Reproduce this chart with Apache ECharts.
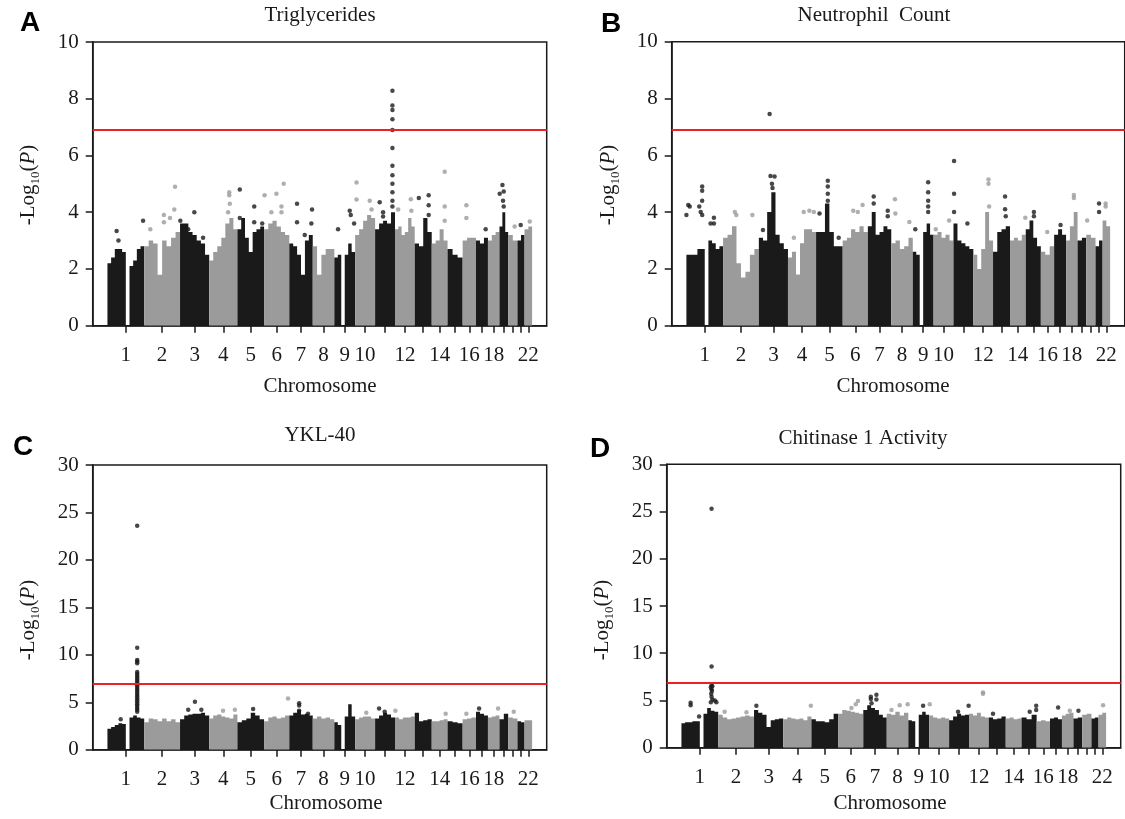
<!DOCTYPE html>
<html><head><meta charset="utf-8">
<script src="https://cdn.jsdelivr.net/npm/echarts@6/dist/echarts.min.js"></script>
<style>html,body{margin:0;padding:0;background:#fff}#c{width:1125px;height:819px}</style>
</head><body><div id="c"></div>
<script>
// ---------------- DATA ----------------
const chromosomes = ['1','2','3','4','5','6','7','8','9','10','11','12','13','14','15','16','17','18','19','20','21','22'];
const chromLengthsMb = [249.3,243.2,198.0,191.2,180.9,171.1,159.1,146.4,141.2,135.5,135.0,133.9,115.2,107.3,102.5,90.4,81.2,78.1,59.1,63.0,48.1,51.3];
const chromTickLabels = ['1','2','3','4','5','6','7','8','9','10','','12','','14','','16','','18','','','','22'];
const significance = 6.9;

// dense-cloud upper envelope per chromosome (-log10 P), evenly spaced along each chromosome
const trigEnvelope = [
 [2.2,2.4,2.7,2.7,2.6,0,2.1,2.3,2.7,2.8],
 [2.8,3.0,2.9,1.8,3.0,2.8,3.1,3.3],
 [3.6,3.6,3.3,3.2,3.0,2.9,2.5],
 [2.3,2.6,2.8,3.1,3.6,3.8,3.4],
 [3.4,3.8,3.1,2.6,3.3,3.4,3.5],
 [3.4,3.6,3.7,3.5,3.3,3.2],
 [2.9,2.8,2.5,1.8,3.0,3.2],
 [2.8,1.8,2.5,2.7,2.7],
 [2.4,2.5,0,2.5,2.9,2.6],
 [3.2,3.4,3.7,3.9,3.8],
 [3.4,3.6,3.7,3.6,4.0],
 [3.4,3.5,3.2,3.3,3.8,3.5],
 [2.9,2.8,3.8,3.3],
 [2.9,3.0,3.4,3.0],
 [2.7,2.5,2.4],
 [3.0,3.1,3.1],
 [3.0,2.9,3.1],
 [3.0,3.2,3.3],
 [3.5,4.0,3.3],
 [3.2,3.0],
 [3.0,3.2],
 [3.4,3.5]
];
const neutEnvelope = [
 [2.5,2.5,2.5,2.7,2.7,0,3.0,2.9,2.7,2.8],
 [3.1,3.2,3.5,2.2,1.7,1.9,2.5,2.7],
 [3.1,3.0,4.0,4.7,3.2,2.9,2.7],
 [2.4,2.6,1.8,2.9,3.4,3.4,3.3],
 [3.3,3.3,4.3,3.3,2.8,2.8],
 [3.0,3.1,3.4,3.3,3.5,3.3],
 [3.5,4.0,3.2,3.3,3.5,3.4],
 [2.9,3.0,2.7,2.8,3.1],
 [2.6,2.5,0,3.3,3.6,3.2],
 [3.2,3.3,3.1,3.2,3.0],
 [3.6,3.0,2.9,2.8,2.7],
 [2.5,2.0,2.7,4.0,3.0],
 [2.6,3.3,3.4,3.5],
 [3.0,3.1,3.0,3.2],
 [3.4,3.7,3.1,2.8],
 [2.6,2.5,2.8],
 [3.2,3.4,3.2],
 [3.0,3.5,4.0],
 [3.0,3.1],
 [3.2,3.1],
 [2.8,3.0],
 [3.7,3.5]
];
const yklEnvelope = [
 [2.2,2.4,2.6,2.8,2.7,0,3.4,3.6,3.4,3.3],
 [2.9,3.3,3.2,3.0,3.3,3.0,3.2,2.9],
 [3.2,3.6,3.7,3.8,3.8,3.9,3.6],
 [3.3,3.6,3.7,3.5,3.4,3.3,3.7],
 [2.9,3.1,3.3,3.9,3.6,3.2],
 [3.0,3.4,3.5,3.3,3.4,3.6],
 [3.6,3.9,4.2,3.7,3.8,3.6],
 [3.3,3.5,3.3,3.4,3.2],
 [2.9,2.6,0,3.5,4.8,3.5],
 [3.2,3.4,3.5,3.5,3.3],
 [3.3,3.6,3.9,3.7,3.4],
 [3.4,3.2,3.4,3.4,3.5],
 [3.9,3.0,3.1,3.2],
 [3.0,3.0,3.1,3.2],
 [3.0,2.9,2.8],
 [3.2,3.3,3.4],
 [4.0,3.8,3.6],
 [3.4,3.5,3.6],
 [3.2,3.8],
 [3.4,3.3],
 [3.0,2.9],
 [3.1,3.1]
];
const chitEnvelope = [
 [2.6,2.7,2.7,2.8,2.8,0,3.6,4.2,3.9,3.8],
 [3.5,3.2,3.0,3.1,3.2,3.3,3.4,3.3],
 [4.0,3.7,3.5,2.2,2.9,3.0,3.1],
 [3.0,3.2,3.1,3.0,3.1,2.9,3.3],
 [3.0,2.8,2.8,2.7,3.0,3.6],
 [3.6,4.0,3.9,3.8,3.7,3.6],
 [4.0,4.5,4.2,4.0,3.5,3.2],
 [3.6,3.5,3.8,3.4,3.7],
 [2.9,2.8,0,3.5,3.8,3.5],
 [3.4,3.2,3.1,3.2,3.1],
 [2.9,3.3,3.6,3.4,3.5],
 [3.6,3.4,3.7,3.3,3.2],
 [3.2,3.0,3.1,3.3],
 [3.1,3.2,3.0,3.1],
 [3.2,3.0,3.5],
 [2.8,2.9,2.8],
 [3.1,3.2,3.0],
 [3.4,3.6,3.7],
 [3.1,3.2],
 [3.5,3.6],
 [3.1,3.2],
 [3.5,3.7]
];

// individual SNPs standing out: [chromosome, fraction along chromosome, -log10 P]
const trigPeaks = [
 [1,.25,3.34],[1,.30,3.0],[1,.97,3.7],
 [2,.17,3.4],[2,.55,3.9],[2,.55,3.65],[2,.86,4.9],[2,.84,4.1],[2,.72,3.8],
 [3,.49,4.0],[3,.01,3.7],[3,.28,3.4],[3,.79,3.1],
 [4,.71,4.7],[4,.71,4.6],[4,.73,4.3],[4,.67,4.0],
 [5,.09,4.8],[5,.63,4.2],[5,.63,3.65],[5,.93,3.6],[5,.09,3.8],
 [6,.02,4.6],[6,.29,4.0],[6,.49,4.65],[6,.78,5.0],[6,.69,4.2],[6,.69,4.0],
 [7,.33,4.3],[7,.33,3.65],[7,.97,4.1],[7,.94,3.6],[7,.66,3.2],
 [9,.18,3.4],[9,.74,4.05],[9,.79,3.9],[9,.95,3.6],
 [10,.07,5.05],[10,.07,4.45],[10,.73,4.4],[10,.82,4.1],
 [11,.87,8.28],[11,.87,7.76],[11,.87,7.6],[11,.87,7.28],[11,.87,6.9],[11,.87,6.26],[11,.87,5.64],[11,.87,5.3],[11,.87,5.0],[11,.87,4.7],[11,.87,4.4],[11,.87,4.2],[11,.23,4.35],[11,.40,4.0],[11,.40,3.85],
 [12,.16,4.1],[12,.80,4.46],[12,.83,4.05],
 [13,.24,4.5],[13,.82,4.6],[13,.82,4.25],[13,.82,3.9],
 [14,.82,5.43],[14,.82,4.2],[14,.82,3.7],
 [16,.28,4.25],[16,.28,3.8],
 [17,.81,3.4],
 [19,.34,4.96],[19,.49,4.73],[19,.03,4.65],[19,.41,4.4],[19,.49,4.2],
 [20,.70,3.5],[21,.46,3.55],[22,.69,3.67]
];
const neutPeaks = [
 [1,.05,4.25],[1,.09,4.2],[1,.0,3.9],[1,.35,4.2],[1,.39,4.0],[1,.43,4.9],[1,.43,4.75],[1,.43,4.4],[1,.43,3.9],[1,.75,3.8],[1,.75,3.6],[1,.66,3.6],
 [2,.33,4.0],[2,.37,3.9],[2,.82,3.9],
 [3,.37,7.45],[3,.40,5.27],[3,.54,5.25],[3,.45,5.0],[3,.47,4.85],[3,.14,3.37],
 [4,.56,4.0],[4,.76,4.05],[4,.92,4.0],[4,.21,3.1],
 [5,.44,5.1],[5,.44,4.9],[5,.44,4.65],[5,.44,4.4],[5,.13,3.95],[5,.85,3.1],
 [6,.42,4.05],[6,.79,4.25],[6,.60,4.0],
 [7,.25,4.55],[7,.25,4.3],[7,.85,4.05],[7,.85,3.85],
 [8,.17,4.45],[8,.19,3.95],[8,.84,3.65],
 [9,.74,5.05],[9,.74,4.7],[9,.74,4.4],[9,.74,4.2],[9,.74,4.0],[9,.12,3.4],
 [10,.11,3.4],[10,.78,3.7],
 [11,.03,5.8],[11,.03,4.65],[11,.03,4.0],[11,.70,3.6],
 [12,.77,5.15],[12,.77,5.0],[12,.80,4.2],
 [13,.71,4.55],[13,.71,4.1],[13,.75,3.85],
 [14,.97,3.8],
 [15,.54,4.0],[15,.54,3.85],
 [16,.48,3.3],[17,.54,3.55],
 [18,.68,4.6],[18,.68,4.5],
 [20,.10,3.7],
 [21,.5,4.3],[21,.5,4.0],
 [22,.4,4.3],[22,.4,4.2]
];
const yklPeaks = [
 [1,.36,3.2],[1,.81,23.6],[1,.81,10.75],[1,.81,9.45],[1,.81,9.3],[1,.81,9.1],[1,.81,8.2],[1,.81,8.0],[1,.81,7.8],[1,.81,7.6],[1,.81,7.4],[1,.81,7.2],[1,.81,7.0],[1,.81,6.8],[1,.81,6.6],[1,.81,6.4],[1,.81,6.2],[1,.81,6.0],[1,.81,5.8],[1,.81,5.6],[1,.81,5.4],[1,.81,5.2],[1,.81,5.0],[1,.81,4.8],[1,.81,4.6],[1,.81,4.4],[1,.81,4.2],[1,.81,4.0],
 [3,.28,4.2],[3,.51,5.05],[3,.73,4.2],
 [4,.49,4.1],[4,.91,4.2],
 [5,.59,4.3],
 [6,.95,5.4],
 [7,.42,4.9],[7,.42,4.65],[7,.42,4.1],[7,.80,3.8],
 [10,.56,3.9],
 [11,.20,4.35],[11,.48,4.0],
 [12,.02,4.1],
 [14,.88,3.8],
 [16,.28,3.8],
 [17,.26,4.35],
 [18,.88,4.35],
 [20,.60,4.0]
];
const chitPeaks = [
 [1,.25,4.75],[1,.25,4.5],[1,.48,3.3],[1,.82,25.3],[1,.82,8.6],[1,.82,6.6],[1,.84,6.5],[1,.80,6.4],[1,.82,6.2],[1,.83,6.0],[1,.81,5.7],[1,.82,5.4],[1,.84,5.1],[1,.80,4.8],[1,.91,5.0],[1,.95,4.8],
 [2,.18,3.8],[2,.79,3.75],
 [3,.08,4.45],
 [4,.98,4.45],
 [6,.79,4.95],[6,.70,4.6],[6,.53,4.2],
 [7,.32,5.4],[7,.32,5.15],[7,.56,5.6],[7,.56,5.1],[7,.35,4.7],
 [8,.22,4.0],[8,.60,4.5],[8,.97,4.6],
 [9,.71,4.45],
 [10,.03,4.6],
 [11,.45,3.8],[11,.98,4.45],
 [12,.71,5.85],[12,.71,5.7],
 [13,.25,3.6],
 [15,.54,3.8],[15,.97,4.45],[15,.97,4.0],
 [17,.68,4.25],
 [18,.68,3.9],
 [19,.57,3.9],
 [22,.6,4.5]
];

// ---------------- CHART ----------------
const BLACK = '#1a1a1a', GREY = '#9b9b9b', RED = '#ee2020', INK = '#1a1a1a';
const SERIF = '"Liberation Serif","Times New Roman",serif';
const cumStart = [];
chromLengthsMb.reduce((acc, l, i) => { cumStart[i] = acc; return acc + l; }, 0);
const centers = chromLengthsMb.map((l, i) => cumStart[i] + l / 2);
const labelledCenters = centers.filter((c, i) => chromTickLabels[i] !== '');
function labelFor(v) {
  let best = 0, d = Infinity;
  centers.forEach((c, i) => { if (Math.abs(c - v) < d) { d = Math.abs(c - v); best = i; } });
  return chromTickLabels[best];
}

const panels = [
  {grid:{left:92.7, top:42, width:454, height:283.7}, yMax:10, yInt:2, env:trigEnvelope, peaks:trigPeaks},
  {grid:{left:671.7, top:41.7, width:453, height:284}, yMax:10, yInt:2, env:neutEnvelope, peaks:neutPeaks},
  {grid:{left:92.7, top:465, width:454, height:284.7}, yMax:30, yInt:5, env:yklEnvelope, peaks:yklPeaks},
  {grid:{left:666.7, top:464.3, width:454, height:283.4}, yMax:30, yInt:5, env:chitEnvelope, peaks:chitPeaks}
];

const grids = [], xAxes = [], yAxes = [], series = [];
panels.forEach((p, g) => {
  grids.push(Object.assign({show:true, borderColor:INK, borderWidth:1.5, backgroundColor:'transparent'}, p.grid));
  xAxes.push({
    type:'value', gridIndex:g, min:-100, max:2980,
    axisLine:{show:true, onZero:false, lineStyle:{color:INK, width:1.5}},
    axisTick:{show:true, customValues:centers, length:7, lineStyle:{color:INK, width:1.5}},
    axisLabel:{customValues:labelledCenters, formatter:labelFor, margin:19, color:INK, fontFamily:SERIF, fontSize:21},
    splitLine:{show:false}
  });
  yAxes.push({
    type:'value', gridIndex:g, min:0, max:p.yMax, interval:p.yInt,
    axisLine:{show:true, onZero:false, lineStyle:{color:INK, width:1.5}},
    axisTick:{show:true, length:7, lineStyle:{color:INK, width:1.5}},
    axisLabel:{margin:14, color:INK, fontFamily:SERIF, fontSize:21},
    splitLine:{show:false}
  });
  const env = p.env;
  series.push({
    type:'custom', xAxisIndex:g, yAxisIndex:g, silent:true, clip:true, z:2,
    data: chromosomes.map((c, i) => [i]),
    renderItem: function (params, api) {
      const i = api.value(0);
      const hs = env[i], start = cumStart[i], len = chromLengthsMb[i], n = hs.length;
      const pts = [api.coord([start, 0])];
      for (let k = 0; k < n; k++) {
        pts.push(api.coord([start + len * k / n, hs[k]]));
        pts.push(api.coord([start + len * (k + 1) / n, hs[k]]));
      }
      pts.push(api.coord([start + len, 0]));
      return {type:'polygon', shape:{points:pts}, style:{fill: i % 2 === 0 ? BLACK : GREY}};
    }
  });
  series.push({
    type:'scatter', xAxisIndex:g, yAxisIndex:g, silent:true, z:3, symbolSize:4.5,
    data: p.peaks.map(pk => ({
      value:[cumStart[pk[0]-1] + pk[1] * chromLengthsMb[pk[0]-1], pk[2]],
      itemStyle:{color: pk[0] % 2 === 1 ? BLACK : GREY}
    }))
  });
  series.push({
    type:'scatter', xAxisIndex:g, yAxisIndex:g, silent:true, z:5, data:[],
    markLine:{silent:true, symbol:['none','none'], label:{show:false}, animation:false,
      lineStyle:{color:RED, width:2, type:'solid'}, data:[{yAxis:significance}]}
  });
});

function txt(x, y, text, font, extra) {
  return Object.assign({type:'text', x:x, y:y, silent:true,
    style:{text:text, font:font, fill:INK, align:'center', verticalAlign:'middle'}}, extra || {});
}
const yName = (x, y) => ({type:'text', x:x, y:y, rotation:Math.PI/2, silent:true,
  style:{text:'{n|-Log}{s|10}{n|(}{i|P}{n|)}', align:'center', verticalAlign:'middle', fill:INK,
    rich:{
      n:{fontSize:21, fontFamily:SERIF, fill:INK, color:INK, lineHeight:28, verticalAlign:'middle'},
      i:{fontSize:21, fontFamily:SERIF, fontStyle:'italic', fill:INK, color:INK, lineHeight:28, verticalAlign:'middle'},
      s:{fontSize:13, fontFamily:SERIF, fill:INK, color:INK, lineHeight:13, verticalAlign:'bottom'}
    }}});
const letterFont = 'bold 28px "Liberation Sans", Arial, sans-serif';
const titleFont = '21px ' + SERIF;
const letter = (x, y, t) => ({type:'text', x:x, y:y, silent:true,
  style:{text:t, font:letterFont, fill:'#000', align:'left', verticalAlign:'middle'}});
const graphic = [
  letter(20, 23, 'A'), letter(601, 24, 'B'), letter(13, 447, 'C'), letter(590, 449, 'D'),
  txt(320, 15, 'Triglycerides', titleFont),
  txt(874, 15, 'Neutrophil  Count', titleFont),
  txt(320, 435, 'YKL-40', titleFont),
  txt(863, 438, 'Chitinase 1 Activity', titleFont),
  txt(320, 386, 'Chromosome', titleFont),
  txt(893, 386, 'Chromosome', titleFont),
  txt(326, 803, 'Chromosome', titleFont),
  txt(890, 803, 'Chromosome', titleFont),
  yName(28, 185), yName(608, 185), yName(28, 620), yName(602, 620)
];

const chart = echarts.init(document.getElementById('c'), null, {renderer:'canvas'});
chart.setOption({animation:false, backgroundColor:'#fff', grid:grids, xAxis:xAxes, yAxis:yAxes, series:series, graphic:graphic});
</script></body></html>
